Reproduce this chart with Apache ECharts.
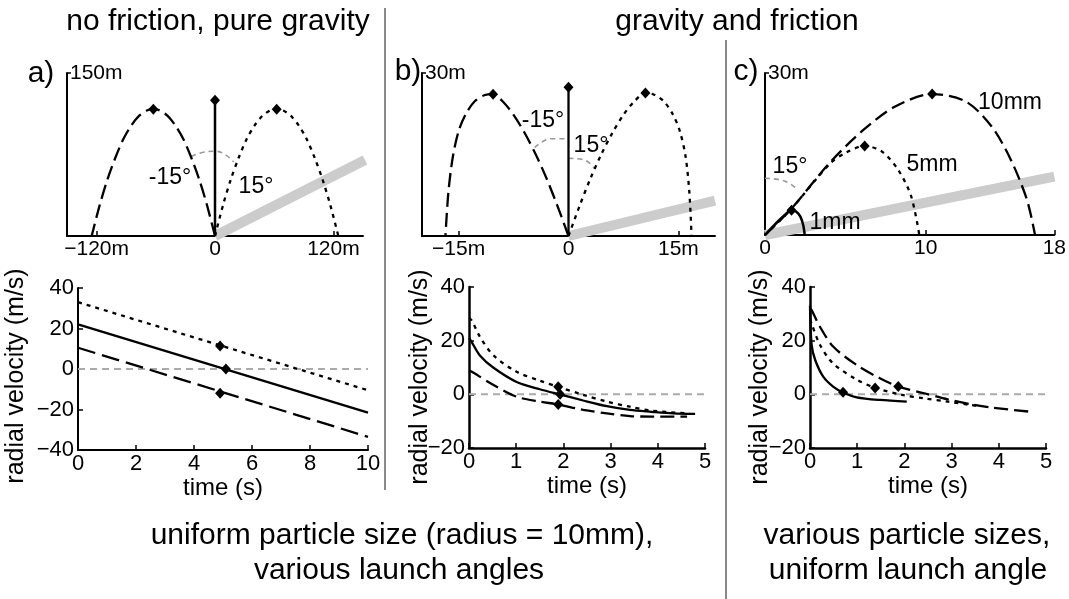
<!DOCTYPE html>
<html>
<head>
<meta charset="utf-8">
<script src="https://cdn.jsdelivr.net/npm/echarts@6/dist/echarts.min.js"></script>
<style>
  html, body { margin: 0; background: #fff; }
  #chart { width: 1069px; height: 599px; }
</style>
</head>
<body>
<div id="chart"></div>
<script>
// ---- top row: trajectories (x, height in m) ----
// a) no friction
const aLeft = [[0,0],[-8,28],[-16,52],[-24,72],[-32,89],[-40,101.5],[-48,110.5],[-56,115.5],[-62.5,116.7],[-69,115.5],[-77,110.5],[-85,101.5],[-93,89],[-101,72],[-109,52],[-117,28],[-125,0]]
const aRight = [[0,0],[8,28],[16,52],[24,72],[32,89],[40,101.5],[48,110.5],[56,115.5],[62.5,116.7],[69,115.5],[77,110.5],[85,101.5],[93,89],[101,72],[109,52],[117,28],[125,0]]
const aUp = [[0,0],[0,125]]
const aPeaks = [[-62.5,116.7],[0,125],[62.5,116.7]]
const aSlope = [[0,0],[152,70]]
const aArc = [[-24,73],[-12,77],[0,78],[10,75],[19,68]]
const aTicks = [-120,0,120]
// b) friction, various angles
const bLeft = [[0,0],[-1.5,5.5],[-3,10.6],[-4.5,15.1],[-6,19],[-7.5,22.3],[-9,24.8],[-10.3,26.1],[-11.5,25.9],[-12.8,24.8],[-14,22.5],[-15,19.3],[-15.8,14.5],[-16.4,8],[-16.8,0]]
const bRight = [[0,0],[1.5,5.5],[3,10.6],[4.5,15.1],[6,19],[7.5,22.3],[9,24.8],[10.5,26.3],[11.7,26],[13,24.8],[14.2,22.5],[15.2,19.3],[16,14.5],[16.5,8],[16.8,0]]
const bUp = [[0,0],[0,27.4]]
const bPeaks = [[-10.3,26.1],[0,27.4],[10.5,26.3]]
const bSlope = [[0,0],[20,6.5]]
const bArcL = [[-4.6,16.3],[-3.6,17.3],[-2.4,17.9],[-0.3,17.9]]
const bArcR = [[0,14.3],[1.9,14.1],[3.5,12.5]]
const bTicks = [-15,0,15]
// c) friction, various sizes
const c10mm = [[0,0],[1.65,4.9],[4,13.3],[6.1,19.4],[8.1,23.8],[10.4,26.1],[12.5,24.7],[14.1,20.1],[15.3,13.9],[16.3,6.5],[16.8,0]]
const c5mm = [[0,0],[1.65,4.9],[4,13.1],[5,15.2],[6.2,16.5],[7.3,15.4],[8.3,12],[9.1,7.1],[9.6,0]]
const c1mm = [[0,0],[0.8,2.5],[1.3,3.9],[1.65,4.6],[1.95,4.3],[2.2,3.4],[2.38,1.8],[2.47,0]]
const cPeaks = [[10.4,26.1],[6.2,16.5],[1.65,4.6]]
const cSlope = [[0,0],[18,10.8]]
const cArc = [[0,10.5],[1.1,10.1],[1.96,8.6]]
const cTicks = [0,10,18]

// ---- bottom row: radial velocity (m/s) vs time (s) ----
const vaDot = [[0,33],[10,-10.5]]
const vaSolid = [[0,22],[10,-21.5]]
const vaDash = [[0,10.5],[10,-33.5]]
const vaMarks = [[4.9,11.3],[5.1,0],[4.9,-12]]
const vbSolid = [[0,21],[0.06,19.4],[0.23,14.5],[0.52,9.9],[1.01,4.6],[1.5,1.9],[1.96,-0.2],[2.42,-2.3],[2.92,-4.4],[3.41,-5.8],[3.87,-6.5],[4.33,-7.1],[4.79,-7.3]]
const vbDot = [[0,28.5],[0.06,27.5],[0.23,21.5],[0.52,14.5],[1.01,8.4],[1.5,5.1],[1.89,2.8],[2.42,-0.2],[2.92,-2.7],[3.41,-4.6],[3.87,-6.1],[4.68,-7.1]]
const vbDash = [[0,9],[0.06,8.4],[0.52,3.5],[1.01,-0.9],[1.5,-2.7],[1.89,-3.8],[2.42,-5.8],[2.92,-7.1],[3.41,-8.1],[3.87,-8.3],[4.62,-8.3]]
const vbMarks = [[1.89,2.8],[1.93,0],[1.89,-3.8]]
const vc1mm = [[0,33],[0.035,18.4],[0.11,12.8],[0.28,6.6],[0.49,2.9],[0.71,0.6],[0.99,-1.1],[1.48,-2.1],[2.05,-2.7]]
const vc5mm = [[0,28],[0.04,26],[0.21,18.5],[0.49,11.5],[0.99,5.5],[1.38,2.4],[1.95,-0.2],[2.42,-1.5],[2.92,-2.7],[3.41,-4],[3.6,-4.4]]
const vc10mm = [[0,32],[0.035,31.4],[0.21,25.2],[0.49,17.8],[0.99,10.9],[1.48,6],[1.87,2.9],[2.42,0.4],[2.92,-1.9],[3.41,-3.7],[3.87,-5],[4.68,-6.5]]
const vcMarks = [[0.7,0.8],[1.38,2.4],[1.87,2.9]]
const zero10 = [[0,0],[10,0]]
const zero5 = [[0,0],[5,0]]

const FONT = "'Liberation Sans', Arial, sans-serif"
const DASH = [14, 6]
const DOT = [4, 5]

const minus = v => (v < 0 ? '\u2212' + Math.abs(v) : String(v))
const metres = v => (v === 0 ? '0' : minus(v) + 'm')

function axLine(w) {
  return { onZero: false, lineStyle: { color: '#000', width: w || 2 } }
}
function lbl(size, extra) {
  return Object.assign({ color: '#000', fontSize: size, fontFamily: FONT }, extra)
}
function topX(i, min, max, ticks, fmt) {
  return {
    gridIndex: i, type: 'value', min: min, max: max,
    axisLine: axLine(2),
    axisTick: { inside: true, length: 5, customValues: ticks, lineStyle: { color: '#000', width: 1.5 } },
    axisLabel: lbl(21, { customValues: ticks, formatter: fmt, margin: 3 }),
    splitLine: { show: false }
  }
}
function topY(i, max) {
  return {
    gridIndex: i, type: 'value', min: 0, max: max,
    axisLine: axLine(2),
    axisTick: { inside: true, length: 4, customValues: [max], lineStyle: { color: '#000', width: 1.5 } },
    axisLabel: lbl(21, { customValues: [max], inside: true, margin: 3, formatter: v => v + 'm' }),
    splitLine: { show: false }
  }
}
function botX(i, max, step, w) {
  return {
    gridIndex: i, type: 'value', min: 0, max: max, interval: step,
    axisLine: axLine(w),
    axisTick: { inside: true, length: 5, lineStyle: { color: '#000', width: 1.5 } },
    axisLabel: lbl(22, { margin: 3 }),
    name: 'time (s)', nameLocation: 'middle', nameGap: 17,
    nameTextStyle: lbl(24),
    splitLine: { show: false }
  }
}
function botY(i, min, w) {
  return {
    gridIndex: i, type: 'value', min: min, max: 40, interval: 20,
    axisLine: axLine(w),
    axisTick: { inside: true, length: 5, lineStyle: { color: '#000', width: 1.5 } },
    axisLabel: lbl(22, { margin: 4, formatter: minus }),
    splitLine: { show: false }
  }
}

function line(idx, data, opts) {
  const o = opts || {}
  return {
    type: 'line', xAxisIndex: idx, yAxisIndex: idx, data: data,
    symbol: 'none', smooth: o.smooth || false, z: o.z || 3,
    lineStyle: { color: o.color || '#000', width: o.width || 2.3, type: o.type || 'solid', cap: 'butt' }
  }
}
function marks(idx, data) {
  return {
    type: 'scatter', xAxisIndex: idx, yAxisIndex: idx, data: data,
    symbol: 'diamond', symbolSize: [10, 11], itemStyle: { color: '#000', opacity: 1 }, z: 5
  }
}
const slope = (idx, data) => line(idx, data, { color: '#cccccc', width: 10, z: 1 })
const arc = (idx, data) => line(idx, data, { color: '#999', width: 1.6, type: [5, 4], smooth: true, z: 2 })
const zeroLine = (idx, data) => line(idx, data, { color: '#aaa', width: 2, type: [7, 5], z: 1 })

function txt(x, y, s, size, extra) {
  return Object.assign({
    type: 'text', x: x, y: y, z: 100,
    style: { text: s, fill: '#000', font: size + 'px ' + FONT, align: 'center', verticalAlign: 'middle' }
  }, extra)
}
function yName(x, y) {
  return txt(x, y, 'radial velocity (m/s)', 25, { rotation: Math.PI / 2 })
}

const chart = echarts.init(document.getElementById('chart'))
chart.setOption({
  animation: false,
  backgroundColor: '#fff',
  grid: [
    { left: 67, top: 73, width: 296, height: 163 },
    { left: 422, top: 73, width: 293, height: 163 },
    { left: 765, top: 73, width: 292, height: 162 },
    { left: 78, top: 288, width: 290, height: 162 },
    { left: 469, top: 287, width: 236, height: 161 },
    { left: 810, top: 287, width: 236, height: 161 }
  ],
  xAxis: [
    topX(0, -150, 150, aTicks, metres),
    topX(1, -20, 20, bTicks, metres),
    topX(2, 0, 18, cTicks, v => String(v)),
    botX(3, 10, 2, 2),
    botX(4, 5, 1, 2.5),
    botX(5, 5, 1, 2.5)
  ],
  yAxis: [
    topY(0, 150),
    topY(1, 30),
    topY(2, 30),
    botY(3, -40, 2),
    botY(4, -20, 2.5),
    botY(5, -20, 2.5)
  ],
  series: [
    slope(0, aSlope), arc(0, aArc),
    line(0, aLeft, { type: DASH, smooth: 0.3 }),
    line(0, aRight, { type: DOT, smooth: 0.3 }),
    line(0, aUp, { width: 2.5 }),
    marks(0, aPeaks),

    slope(1, bSlope), arc(1, bArcL), arc(1, bArcR),
    line(1, bLeft, { type: DASH, smooth: 0.3 }),
    line(1, bRight, { type: DOT, smooth: 0.3 }),
    line(1, bUp, { width: 2.3 }),
    marks(1, bPeaks),

    slope(2, cSlope), arc(2, cArc),
    line(2, c10mm, { type: DASH, smooth: 0.3 }),
    line(2, c5mm, { type: DOT, smooth: 0.3 }),
    line(2, c1mm, { width: 2.5, smooth: 0.3 }),
    marks(2, cPeaks),

    zeroLine(3, zero10),
    line(3, vaDot, { type: DOT }),
    line(3, vaSolid, {}),
    line(3, vaDash, { type: [18, 7] }),
    marks(3, vaMarks),

    zeroLine(4, zero5),
    line(4, vbDot, { type: DOT, smooth: 0.3 }),
    line(4, vbSolid, { smooth: 0.3 }),
    line(4, vbDash, { type: DASH, smooth: 0.3 }),
    marks(4, vbMarks),

    zeroLine(5, zero5),
    line(5, vc10mm, { type: DASH, smooth: 0.3 }),
    line(5, vc5mm, { type: DOT, smooth: 0.3 }),
    line(5, vc1mm, { smooth: 0.3 }),
    marks(5, vcMarks)
  ],
  graphic: [
    { type: 'line', shape: { x1: 385, y1: 8, x2: 385, y2: 490 }, style: { stroke: '#888', lineWidth: 2 } },
    { type: 'line', shape: { x1: 726, y1: 40, x2: 726, y2: 599 }, style: { stroke: '#888', lineWidth: 2 } },
    txt(218, 22, 'no friction, pure gravity', 30),
    txt(737, 22, 'gravity and friction', 30),
    txt(41, 74, 'a)', 30),
    txt(408, 72, 'b)', 30),
    txt(746, 72, 'c)', 30),
    txt(170, 178, '-15°', 23),
    txt(256, 187, '15°', 23),
    txt(543, 121, '-15°', 23),
    txt(591, 146, '15°', 23),
    txt(790, 167, '15°', 23),
    txt(1010, 103, '10mm', 23),
    txt(932, 165, '5mm', 23),
    txt(835, 223, '1mm', 23),
    yName(16, 376),
    yName(420, 377),
    yName(760, 377),
    txt(402, 536, 'uniform particle size (radius = 10mm),', 30),
    txt(399, 571, 'various launch angles', 30),
    txt(907, 536, 'various particle sizes,', 30),
    txt(908, 571, 'uniform launch angle', 30)
  ]
})
</script>
</body>
</html>
